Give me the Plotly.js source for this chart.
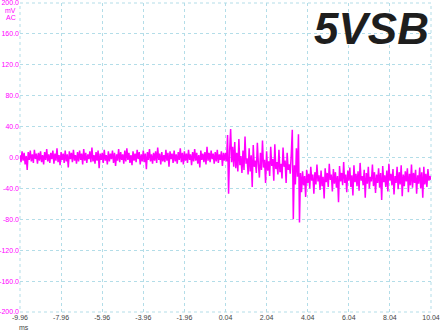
<!DOCTYPE html>
<html>
<head>
<meta charset="utf-8">
<script src="https://cdn.plot.ly/plotly-3.0.1.min.js"></script>
<style>
html,body{margin:0;padding:0;background:#fff;}
#chart{width:440px;height:330px;}
</style>
</head>
<body>
<div id="chart"></div>
<script>
// Time base of the captured record (ms)
const sampleStart = -9.96;
const sampleStep = 0.05;

// Channel voltage (mV), one value per sample
const preEvent = [
  3,-6,8,-4,6,-9,2,-16,7,-3,9,-5,4,-7,10,-2,5,-8,6,-4,
  8,-6,3,-9,7,-3,11,-5,4,-7,6,-2,9,-8,5,-4,12,-6,3,-10,
  7,-3,5,-7,9,-5,4,-13,8,-2,6,-6,10,-4,3,-8,7,-5,9,-3,
  5,-9,11,-4,6,-7,4,-2,8,-6,13,-5,3,-8,7,-4,9,-14,5,-3,
  6,-7,10,-4,3,-9,8,-5,5,-2,9,-7,6,-11,4,-4,11,-6,7,-3,
  4,-8,9,-5,12,-3,6,-7,3,-10,8,-4,5,-6,10,-2,7,-9,4,-5,
  9,-6,5,-15,7,-3,11,-5,4,-8,6,-4,8,-7,13,-3,5,-9,7,-5,
  3,-6,10,-4,6,-12,8,-2,5,-7,9,-5,4,-8,7,-3,12,-6,6,-9,
  8,-4,5,-7,10,-3,4,-10,7,-5,11,-4,6,-8,3,-13,9,-3,5,-6,
  7,-9,14,-4,6,-6,9,-2,5,-8,7,-5,10,-7,4,-3,8,-11,6,-4
];
const transition = [
  6,-5,29,-47,8,37,-6,14,-12,20,
  -14,6,-18,24,-10,2,-20,9,-16,27,
  -8,-1,-22,12,-18,3,-38,16,-12,-4,
  -20,19,-9,-26,6,-16,22,-13,-3,-33,
  8,-17,-5,-24,14,-11,-2,-30,17,-15,
  -6,-22,10,-19,-8,-27,13,-12,-4,-33,
  6,-16,-9,-21,4
];
const dropout = [36,-80,-10,-35,12,-25,30,-84,-20,-45];
const postEvent = [
  -18,-36,-24,-51,-16,-33,-21,-40,-12,-30,-22,-47,-19,-35,-9,-31,-23,-42,-17,-37,
  -25,-53,-14,-32,-20,-38,-8,-29,-22,-44,-15,-34,-19,-39,-24,-58,-11,-31,-20,-36,
  -6,-33,-22,-45,-17,-30,-13,-38,-23,-49,-10,-32,-21,-37,-18,-43,-7,-30,-24,-36,
  -16,-52,-20,-34,-12,-40,-25,-31,-9,-37,-19,-46,-22,-33,-14,-39,-20,-55,-11,-32,
  -23,-38,-17,-44,-8,-30,-21,-36,-15,-48,-24,-33,-12,-41,-19,-35,-10,-50,-22,-37,
  -18,-31,-14,-45,-21,-36,-9,-39,-20,-33,-16,-47,-23,-34,-13,-40,-19,-52,-12,-35,
  -21,-38,-15,-30,-24,-29
];

// Axis ticks
const xTickVals = [-9.96,-7.96,-5.96,-3.96,-1.96,0.04,2.04,4.04,6.04,8.04,10.04];
const xTickText = ['-9.96','-7.96','-5.96','-3.96','-1.96','0.04','2.04','4.04','6.04','8.04','10.04'];
const yTickVals = [-200,-160,-120,-80,-40,0,40,80,120,160,200];
const yTickText = ['-200.0','-160.0','-120.0','-80.0','-40.0','0.0','40.0','80.0','120.0','160.0','200.0'];
const xUnit = 'ms';
const yUnit = 'mV';
const coupling = 'AC';
const channelName = '5VSB';

const volts = preEvent.concat(transition, dropout, postEvent);
const times = volts.map((_, i) => +(sampleStart + i * sampleStep).toFixed(4));

const gridColor = '#b3dde8';
const tickFont = {family: 'Liberation Sans, Arial, sans-serif', size: 7};

const trace = {
  x: times, y: volts, type: 'scatter', mode: 'lines',
  line: {color: '#ff00ff', width: 1.5},
  hoverinfo: 'skip'
};

const layout = {
  width: 440, height: 330,
  margin: {l: 20, r: 9, t: 3, b: 18, pad: 0},
  paper_bgcolor: '#ffffff', plot_bgcolor: '#ffffff',
  showlegend: false,
  xaxis: {
    range: [-9.96, 10.04], tickmode: 'array', tickvals: xTickVals, ticktext: xTickText,
    showgrid: true, gridcolor: gridColor, griddash: 'dot', gridwidth: 1,
    zeroline: false, showline: false, ticks: '', ticklabeloverflow: 'allow',
    tickfont: Object.assign({color: '#444'}, tickFont), fixedrange: true
  },
  yaxis: {
    range: [-200, 200], tickmode: 'array', tickvals: yTickVals, ticktext: yTickText,
    showgrid: true, gridcolor: gridColor, griddash: 'dot', gridwidth: 1,
    zeroline: false, showline: false, ticks: '', ticklabeloverflow: 'allow',
    tickfont: Object.assign({color: '#ff00ff'}, tickFont), fixedrange: true
  },
  shapes: [{
    type: 'rect', xref: 'paper', yref: 'paper', x0: 0, x1: 1, y0: 0, y1: 1,
    line: {color: gridColor, width: 1, dash: 'dot'}, layer: 'below'
  }],
  annotations: [
    {text: yUnit, xref: 'paper', yref: 'paper', x: 0, y: 0.977, xanchor: 'right', yanchor: 'middle',
     xshift: -2, showarrow: false, font: Object.assign({}, tickFont, {color: '#ff00ff'})},
    {text: coupling, xref: 'paper', yref: 'paper', x: 0, y: 0.953, xanchor: 'right', yanchor: 'middle',
     xshift: -2, showarrow: false, font: Object.assign({}, tickFont, {color: '#ff00ff'})},
    {text: xUnit, xref: 'paper', yref: 'paper', x: 0.01, y: -0.049, xanchor: 'center', yanchor: 'middle',
     showarrow: false, font: Object.assign({}, tickFont, {color: '#444'})},
    {text: '<b><i>' + channelName + '</i></b>', xref: 'paper', yref: 'paper', x: 1, y: 0.919,
     xanchor: 'right', yanchor: 'middle', showarrow: false,
     font: {family: 'Liberation Sans, Arial, sans-serif', size: 44, color: '#1e1e1e'}}
  ]
};

Plotly.newPlot('chart', [trace], layout, {staticPlot: true, displayModeBar: false});
</script>
</body>
</html>
